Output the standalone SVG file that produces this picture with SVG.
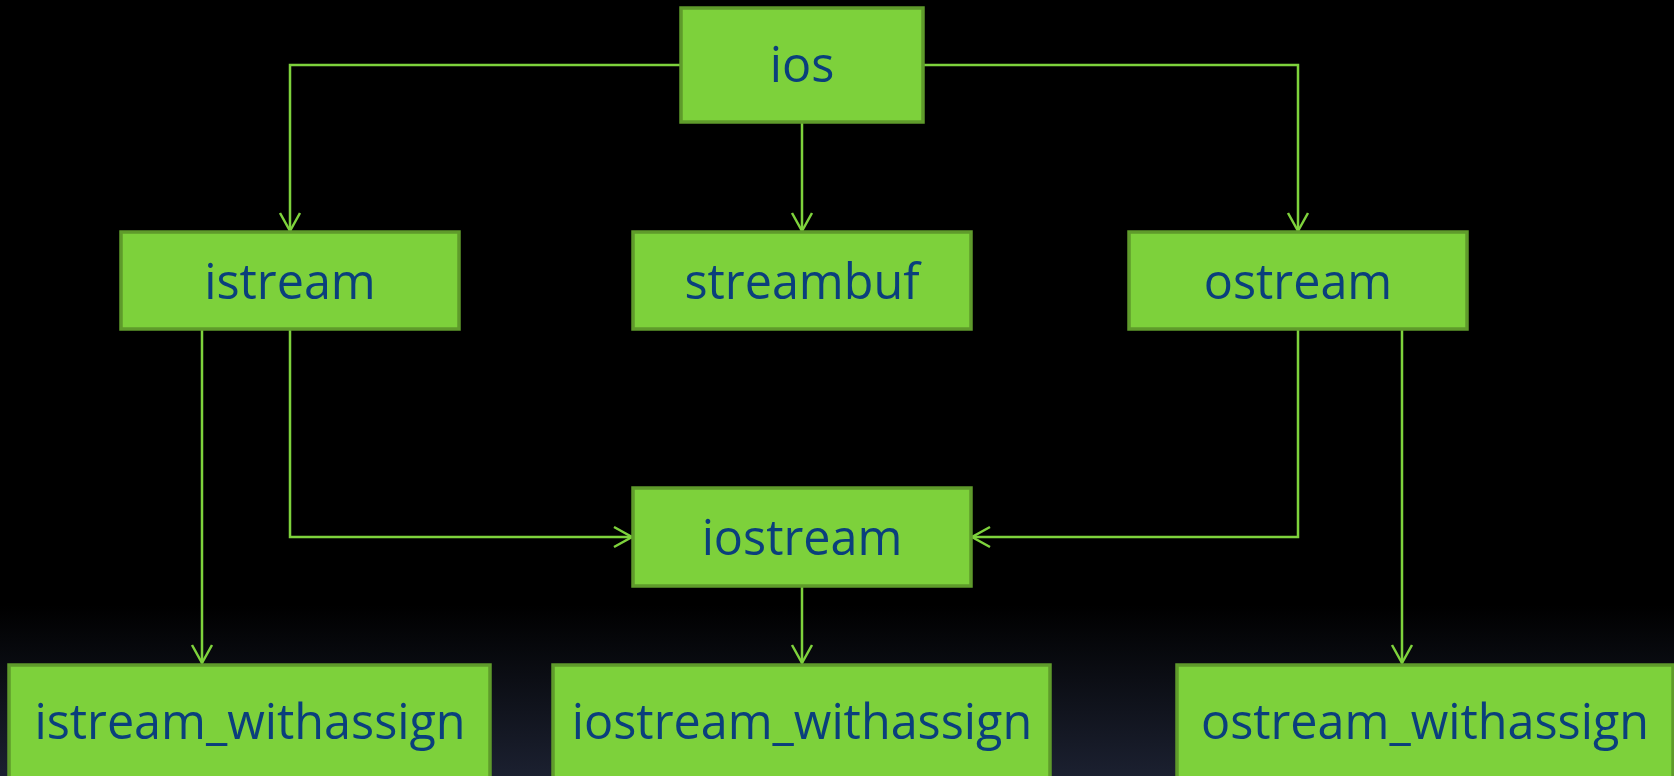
<svg xmlns="http://www.w3.org/2000/svg" width="1674" height="776" viewBox="0 0 1674 776">
<defs>
<linearGradient id="bg" x1="0" y1="0" x2="0" y2="1">
<stop offset="0" stop-color="#000000"/>
<stop offset="0.78" stop-color="#000000"/>
<stop offset="1" stop-color="#1b2030"/>
</linearGradient>
<marker id="arr" markerUnits="userSpaceOnUse" markerWidth="24" markerHeight="24" viewBox="-20 -12 24 24" refX="0" refY="0" orient="auto">
<path d="M-18,-10 L0,0 L-18,10" fill="none" stroke="#7ed23c" stroke-width="2.5"/>
</marker>
<style>
.box{fill:#7dd13b;stroke:#5f9b2b;stroke-width:3.5}
.lbl{font-family:"Open Sans","Liberation Sans",sans-serif;font-size:48.5px;fill:#0a3f7c;text-anchor:middle}
.c{fill:none;stroke:#7ed23c;stroke-width:2.5}
</style>
</defs>
<rect x="0" y="0" width="1674" height="776" fill="url(#bg)"/>
<g id="connectors">
<path class="c" d="M681,65 H290 V231" marker-end="url(#arr)"/>
<path class="c" d="M802,122 V231" marker-end="url(#arr)"/>
<path class="c" d="M923,65 H1298 V231" marker-end="url(#arr)"/>
<path class="c" d="M290,329 V537 H632" marker-end="url(#arr)"/>
<path class="c" d="M202,329 V663" marker-end="url(#arr)"/>
<path class="c" d="M1298,329 V537 H972" marker-end="url(#arr)"/>
<path class="c" d="M1402,329 V663" marker-end="url(#arr)"/>
<path class="c" d="M802,586 V663" marker-end="url(#arr)"/>
</g>
<g id="ios"><rect class="box" x="681" y="8" width="242" height="114"/><text class="lbl" x="802" y="82">ios</text></g>
<g id="istream"><rect class="box" x="121" y="232" width="338" height="97"/><text class="lbl" x="290" y="299">istream</text></g>
<g id="streambuf"><rect class="box" x="633" y="232" width="338" height="97"/><text class="lbl" x="802" y="299">streambuf</text></g>
<g id="ostream"><rect class="box" x="1129" y="232" width="338" height="97"/><text class="lbl" x="1298" y="299">ostream</text></g>
<g id="iostream"><rect class="box" x="633" y="488" width="338" height="98"/><text class="lbl" x="802" y="555">iostream</text></g>
<g id="istream_withassign"><rect class="box" x="9" y="665" width="481" height="120"/><text class="lbl" x="250" y="739">istream_withassign</text></g>
<g id="iostream_withassign"><rect class="box" x="553" y="665" width="497" height="120"/><text class="lbl" x="802" y="739">iostream_withassign</text></g>
<g id="ostream_withassign"><rect class="box" x="1177" y="665" width="496" height="120"/><text class="lbl" x="1425" y="739">ostream_withassign</text></g>
</svg>
